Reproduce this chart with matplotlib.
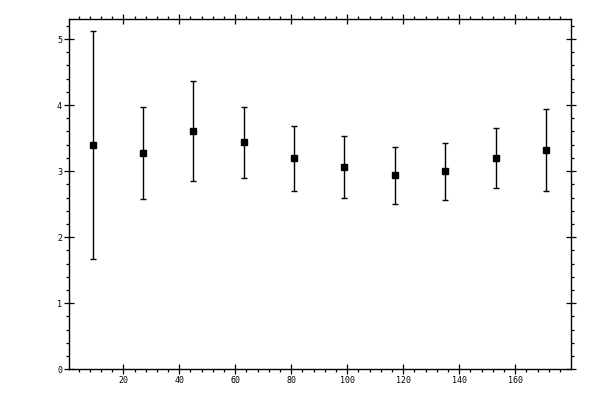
import matplotlib
matplotlib.use('Agg')
import matplotlib.pyplot as plt
from matplotlib.ticker import MultipleLocator

# bin centres and mean values with error bar limits
x_vals = [9, 27, 45, 63, 81, 99, 117, 135, 153, 171]
y_mean = [3.39, 3.27, 3.61, 3.44, 3.20, 3.06, 2.94, 3.00, 3.20, 3.32]
y_high = [5.12, 3.97, 4.36, 3.97, 3.68, 3.53, 3.37, 3.42, 3.65, 3.94]
y_low = [1.67, 2.58, 2.85, 2.89, 2.70, 2.59, 2.50, 2.56, 2.74, 2.70]

err_lo = [m - l for m, l in zip(y_mean, y_low)]
err_hi = [h - m for m, h in zip(y_mean, y_high)]

fig = plt.figure(figsize=(6, 4), dpi=100)
ax = fig.add_axes([0.1155, 0.077, 0.8355, 0.875])

ax.errorbar(x_vals, y_mean, yerr=[err_lo, err_hi], fmt='s', color='black',
            ecolor='black', markersize=4.8, elinewidth=1.0, capsize=2.0,
            capthick=1.0)

ax.set_xlim(0.7, 179.8)
ax.set_ylim(0, 5.3)
ax.xaxis.set_major_locator(MultipleLocator(20))
ax.xaxis.set_minor_locator(MultipleLocator(4))
ax.yaxis.set_major_locator(MultipleLocator(1))
ax.yaxis.set_minor_locator(MultipleLocator(0.2))

for sp in ax.spines.values():
    sp.set_linewidth(1.0)

ax.tick_params(which='major', direction='inout', length=6.5, width=0.9,
               top=True, right=True, labelsize=6, pad=2)
ax.tick_params(which='minor', direction='out', length=2.4, width=0.9,
               top=True, right=True)

# the 0 label on x is not shown in the reference
ax.set_xticks([20, 40, 60, 80, 100, 120, 140, 160])
ax.set_xticks([t for t in range(4, 180, 4)], minor=True)

for lab in ax.get_xticklabels() + ax.get_yticklabels():
    lab.set_fontfamily('DejaVu Sans Mono')

fig.savefig('out.png', dpi=100)
